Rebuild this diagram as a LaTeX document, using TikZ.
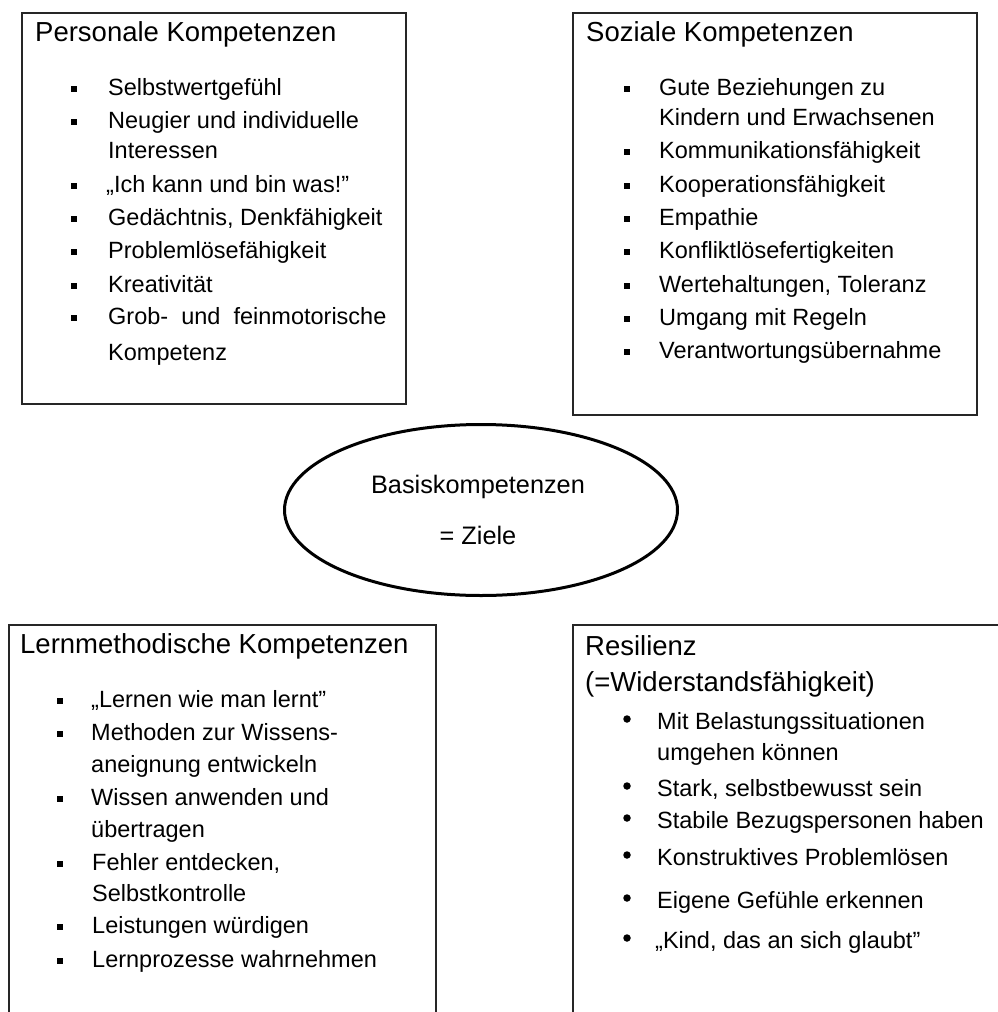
\documentclass[tikz,border=0pt]{standalone}
\usepackage{fontspec}
\setmainfont{Liberation Sans}
\usetikzlibrary{shapes.geometric}
\tikzset{
  txt/.style={anchor=base west, inner sep=0pt, font=\fontsize{23.5}{28}\selectfont},
  ttl/.style={anchor=base west, inner sep=0pt, font=\fontsize{27.5}{32}\selectfont},
  ctr/.style={anchor=base, inner sep=0pt, font=\fontsize{25.3}{30}\selectfont},
  sqb/.style={rectangle, fill=black, inner sep=0pt, minimum size=6.5pt},
  rdb/.style={circle, fill=black, inner sep=0pt, minimum size=7.5pt},
  box/.style={draw=black!85, line width=2pt, rectangle, inner sep=0pt, anchor=north west}
}
\begin{document}
\begin{tikzpicture}[x=1pt,y=-1pt]
\clip (0,0) rectangle (998,1012);
\fill[white] (0,0) rectangle (998,1012);

% Boxes
\node[box, minimum width=384pt, minimum height=391pt] (pers) at (21,12) {};
\node[box, minimum width=404pt, minimum height=402pt] (soz) at (572,12) {};
\node[box, minimum width=427pt, minimum height=420pt] (lern) at (8,624) {};
\node[box, minimum width=440pt, minimum height=420pt] (res) at (572,624) {};

% Ellipse
\node[draw=black, ellipse, line width=3pt, minimum width=393pt, minimum height=171pt, inner sep=0pt] (basis) at (481,510) {};
\node[ctr] (basis1) at (478,493) {Basiskompetenzen};
\node[ctr] (basis2) at (478,544) {= Ziele};

% Personale Kompetenzen
\node[ttl] (pt) at (35,41) {Personale Kompetenzen};
\node[sqb] (pb1) at (74,89) {}; \node[txt] (p1) at (108,95) {Selbstwertgefühl};
\node[sqb] (pb2) at (74,122) {}; \node[txt] (p2) at (108,128) {Neugier und individuelle};
\node[txt] (p2b) at (108,158) {Interessen};
\node[sqb] (pb3) at (74,186) {}; \node[txt] (p3) at (106,192) {„Ich kann und bin was!"};
\node[sqb] (pb4) at (74,219) {}; \node[txt] (p4) at (108,225) {Gedächtnis, Denkfähigkeit};
\node[sqb] (pb5) at (74,252) {}; \node[txt] (p5) at (108,258) {Problemlösefähigkeit};
\node[sqb] (pb6) at (74,286) {}; \node[txt] (p6) at (108,292) {Kreativität};
\node[sqb] (pb7) at (74,318) {}; \node[txt] (p7) at (108,324) {Grob-\ \ und\ \ feinmotorische};
\node[txt] (p7b) at (108,360) {Kompetenz};

% Soziale Kompetenzen
\node[ttl] (st) at (586,41) {Soziale Kompetenzen};
\node[sqb] (sb1) at (627,89) {}; \node[txt] (s1) at (659,95) {Gute Beziehungen zu};
\node[txt] (s1b) at (659,125) {Kindern und Erwachsenen};
\node[sqb] (sb2) at (627,152) {}; \node[txt] (s2) at (659,158) {Kommunikationsfähigkeit};
\node[sqb] (sb3) at (627,186) {}; \node[txt] (s3) at (659,192) {Kooperationsfähigkeit};
\node[sqb] (sb4) at (627,219) {}; \node[txt] (s4) at (659,225) {Empathie};
\node[sqb] (sb5) at (627,252) {}; \node[txt] (s5) at (659,258) {Konfliktlösefertigkeiten};
\node[sqb] (sb6) at (627,286) {}; \node[txt] (s6) at (659,292) {Wertehaltungen, Toleranz};
\node[sqb] (sb7) at (627,319) {}; \node[txt] (s7) at (659,325) {Umgang mit Regeln};
\node[sqb] (sb8) at (627,352) {}; \node[txt] (s8) at (659,358) {Verantwortungsübernahme};

% Lernmethodische Kompetenzen
\node[ttl] (lt) at (20,653) {Lernmethodische Kompetenzen};
\node[sqb] (lb1) at (60,701) {}; \node[txt] (l1) at (91,707) {„Lernen wie man lernt"};
\node[sqb] (lb2) at (60,734) {}; \node[txt] (l2) at (91,740) {Methoden zur Wissens-};
\node[txt] (l2b) at (91,772) {aneignung entwickeln};
\node[sqb] (lb3) at (60,799) {}; \node[txt] (l3) at (91,805) {Wissen anwenden und};
\node[txt] (l3b) at (91,837) {übertragen};
\node[sqb] (lb4) at (60,864) {}; \node[txt] (l4) at (92,870) {Fehler entdecken,};
\node[txt] (l4b) at (92,901) {Selbstkontrolle};
\node[sqb] (lb5) at (60,927) {}; \node[txt] (l5) at (92,933) {Leistungen würdigen};
\node[sqb] (lb6) at (60,961) {}; \node[txt] (l6) at (92,967) {Lernprozesse wahrnehmen};

% Resilienz
\node[ttl] (rt) at (585,655) {Resilienz};
\node[ttl] (rt2) at (585,691) {(=Widerstandsfähigkeit)};
\node[rdb] (rb1) at (627,719) {}; \node[txt] (r1) at (657,729) {Mit Belastungssituationen};
\node[txt] (r1b) at (657,760) {umgehen können};
\node[rdb] (rb2) at (627,786) {}; \node[txt] (r2) at (657,796) {Stark, selbstbewusst sein};
\node[rdb] (rb3) at (627,818) {}; \node[txt] (r3) at (657,828) {Stabile Bezugspersonen haben};
\node[rdb] (rb4) at (627,855) {}; \node[txt] (r4) at (657,865) {Konstruktives Problemlösen};
\node[rdb] (rb5) at (627,898) {}; \node[txt] (r5) at (657,908) {Eigene Gefühle erkennen};
\node[rdb] (rb6) at (627,938) {}; \node[txt] (r6) at (655,948) {„Kind, das an sich glaubt"};
\end{tikzpicture}
\end{document}
